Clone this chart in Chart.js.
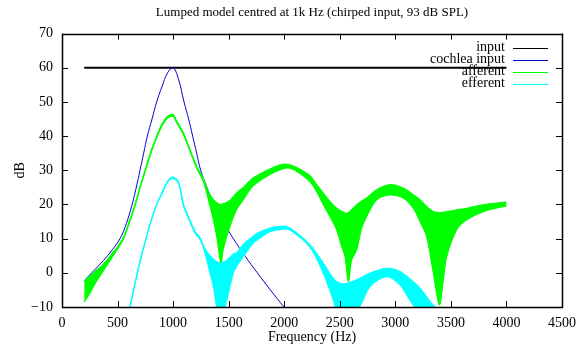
<!DOCTYPE html>
<html>
<head>
<meta charset="utf-8">
<script src="https://cdn.jsdelivr.net/npm/chart.js@4/dist/chart.umd.min.js"></script>
<style>
  html, body { margin: 0; padding: 0; background: #fff; }
  canvas { display: block; }
</style>
</head>
<body>
<canvas id="c" width="586" height="347"></canvas>
<script>
// series names / colours, in gnuplot key order
const seriesNames = ['input', 'cochlea input', 'afferent', 'efferent']
const seriesColors = ['#000000', '#0000d8', '#00ff00', '#00ffff']

// input: flat 60 dB over the chirp range
const inputFreq = [200, 4000]
const inputDb = [60, 60]

// cochlea input (blue)
const cochFreq = [200, 267, 350, 430, 522, 580, 627, 665, 702, 735, 768, 810, 852, 900, 950, 1000,
    1050, 1098, 1140, 1176, 1212, 1248, 1310, 1377, 1460, 1542, 1650, 1758, 1880, 1998, 2100]
const cochDb = [-2.3, 0, 2.8, 5.8, 10, 14.5, 19.5, 24.5, 30, 35, 40, 45, 50, 54.5, 58.5, 60,
    56.5, 50, 45, 40, 35, 30, 24.5, 19.5, 14.5, 10, 4.8, 0, -5.2, -10, -14]

// afferent (green): upper and lower edge of the ripple band
const affFreq = [200, 250, 300, 350, 400, 450, 500, 552, 600, 657, 700, 747, 800, 852, 900, 950, 1000,
    1032, 1092, 1152, 1212, 1272, 1302, 1332, 1362, 1392, 1422, 1431, 1452, 1512, 1572, 1632, 1722, 1872, 1992,
    2052, 2142, 2232, 2292, 2352, 2412, 2472, 2517, 2547, 2577, 2607, 2652, 2697, 2742, 2832, 2952, 3072,
    3162, 3222, 3282, 3342, 3396, 3430, 3462, 3552, 3642, 3792, 4000]
const affHi = [-2.5, -1, 0.5, 1.8, 3.6, 5.6, 7.6, 10.3, 14.5, 20, 25, 30, 35.5, 40, 43.5, 45.8, 46.3,
    44.4, 41, 36.1, 31.2, 27.6, 24.9, 22.8, 21.4, 20.5, 20, 20, 20.2, 21.2, 23.4, 25, 27.8, 30.4, 31.8,
    31.6, 30.3, 28.4, 25.8, 23.3, 20.9, 18.9, 18, 17.5, 17.6, 18.5, 19.9, 21, 21.9, 24.3, 25.8, 24.8,
    22.8, 21.4, 19.4, 17.9, 17.6, 17.7, 17.9, 18.4, 18.9, 19.9, 20.7]
const affLo = [-8.5, -6, -3, -0.5, 2, 4.5, 7, 9.8, 14, 19.5, 24.5, 29.5, 35, 39.5, 43, 45.3, 45.8,
    43.9, 40.5, 35.6, 30.7, 26.8, 23.4, 19.5, 15.6, 10.7, 4, 2.4, 7, 13.6, 18.5, 21.4, 25.5, 28.8, 30.5,
    30.6, 29.1, 26.7, 23.8, 19.9, 16.5, 12.6, 7.7, 4.8, -2.6, 3.8, 6.7, 13.1, 16.5, 21.4, 22.8, 21.9,
    18.9, 15, 10.6, -0.1, -9.4, -2.6, 4.7, 12.6, 15.5, 17.9, 19.6]

// efferent (cyan): upper and lower edge of the ripple band
const effFreq = [600, 612, 645, 678, 715, 756, 800, 852, 900, 950, 1000, 1050, 1092, 1150, 1200, 1242,
    1272, 1302, 1332, 1362, 1392, 1422, 1467, 1542, 1572, 1632, 1722, 1752, 1872, 1992,
    2052, 2232, 2352, 2442, 2502, 2577, 2682, 2772, 2922, 3042, 3132, 3222, 3312, 3372, 3420]
const effHi = [-12, -10, -5, 0, 5, 10, 15, 20, 23.5, 26.8, 28, 26.5, 20.3, 15.5, 12, 10.3,
    8, 6.3, 5, 4, 3.3, 2.9, 3.3, 5.5, 5.8, 8.3, 10.7, 11.5, 13.1, 13.7,
    13.1, 8.2, 2.8, -1.6, -3.1, -3, -1.6, -0.1, 1.3, 0.4, -1.8, -4.5, -8.4, -10.5, -13]
const effLo = [-12, -10, -5, 0, 5, 10, 15, 20, 23.2, 26.5, 27.6, 26.1, 19.8, 15, 11.5, 9.8,
    7.5, 3.9, 0, -3.9, -10, -14, -10, 0, 1.9, 4.8, 8.8, 9.5, 12, 12.8,
    12.5, 7.5, -0.1, -8, -14, -14, -9.7, -4, -1.1, -3.5, -8, -12, -14, -15, -16]

const xTicks = [0, 500, 1000, 1500, 2000, 2500, 3000, 3500, 4000, 4500]
const yTicks = [-10, 0, 10, 20, 30, 40, 50, 60, 70]

function pts(xs, ys) {
    return xs.map(function(x, i) { return {x: x, y: ys[i]} })
}

const serif = 'Liberation Serif, Times New Roman, serif'

// gnuplot look: frame, inward mirrored ticks, key at top right
const gnuplotFrame = {
    id: 'gnuplotFrame',
    afterDraw(chart) {
        var ctx = chart.ctx
        var a = chart.chartArea
        var xs = chart.scales.x
        var ys = chart.scales.y
        ctx.save()
        ctx.strokeStyle = '#000'
        ctx.lineWidth = 1
        ctx.beginPath()
        xTicks.forEach(function(v) {
            var px = Math.round(xs.getPixelForValue(v)) + 0.5
            ctx.moveTo(px, a.bottom); ctx.lineTo(px, a.bottom - 6)
            ctx.moveTo(px, a.top); ctx.lineTo(px, a.top + 6)
        })
        yTicks.forEach(function(v) {
            var py = Math.round(ys.getPixelForValue(v)) + 0.5
            ctx.moveTo(a.left, py); ctx.lineTo(a.left + 6, py)
            ctx.moveTo(a.right, py); ctx.lineTo(a.right - 6, py)
        })
        ctx.stroke()
        ctx.lineWidth = 1.5
        ctx.strokeRect(Math.round(a.left) + 0.5, Math.round(a.top) + 0.5,
            Math.round(a.right - a.left), Math.round(a.bottom - a.top))

        // key
        ctx.font = '14px ' + serif
        ctx.textAlign = 'right'
        ctx.textBaseline = 'middle'
        ctx.lineWidth = 1
        for (let i = 0; i < seriesNames.length; i++) {
            var y = a.top + 14 + i * 12
            ctx.fillStyle = '#000'
            ctx.fillText(seriesNames[i], a.right - 57, y)
            ctx.strokeStyle = seriesColors[i]
            ctx.beginPath()
            ctx.moveTo(a.right - 49, Math.round(y) + 0.5)
            ctx.lineTo(a.right - 14, Math.round(y) + 0.5)
            ctx.stroke()
        }
        ctx.restore()
    }
}

new Chart(document.getElementById('c'), {
    type: 'line',
    data: {
        datasets: [
            {label: seriesNames[0], data: pts(inputFreq, inputDb), borderColor: seriesColors[0],
                borderWidth: 2, pointRadius: 0, order: 6},
            {label: seriesNames[1], data: pts(cochFreq, cochDb), borderColor: seriesColors[1],
                borderWidth: 1, pointRadius: 0, tension: 0.4, order: 5},
            {label: seriesNames[2], data: pts(affFreq, affHi), borderColor: seriesColors[2],
                borderWidth: 1.2, pointRadius: 0, tension: 0.3, fill: false, order: 4},
            {label: seriesNames[2] + ' lo', data: pts(affFreq, affLo), borderColor: seriesColors[2],
                backgroundColor: seriesColors[2], borderWidth: 1.2, pointRadius: 0, tension: 0.3,
                fill: '-1', order: 3},
            {label: seriesNames[3], data: pts(effFreq, effHi), borderColor: seriesColors[3],
                borderWidth: 1.2, pointRadius: 0, tension: 0.3, fill: false, order: 2},
            {label: seriesNames[3] + ' lo', data: pts(effFreq, effLo), borderColor: seriesColors[3],
                backgroundColor: seriesColors[3], borderWidth: 1.2, pointRadius: 0, tension: 0.3,
                fill: '-1', order: 1},
        ],
    },
    options: {
        responsive: false,
        animation: false,
        devicePixelRatio: 1,
        layout: {padding: {left: 0, right: 24, top: 0, bottom: 0}},
        plugins: {
            legend: {display: false},
            tooltip: {enabled: false},
            title: {
                display: true,
                fullSize: false,
                text: 'Lumped model centred at 1k Hz (chirped input, 93 dB SPL)',
                color: '#000',
                font: {family: serif, size: 13, weight: 'normal'},
                padding: {top: 5, bottom: 13},
            },
        },
        scales: {
            x: {
                type: 'linear',
                min: 0,
                max: 4500,
                afterFit: function(scale) { scale.height = 40 },
                afterBuildTicks: function(scale) { scale.ticks = xTicks.map(function(v) { return {value: v} }) },
                grid: {display: false, drawTicks: false},
                border: {display: false},
                ticks: {
                    color: '#000', padding: 8, maxRotation: 0, font: {family: serif, size: 14},
                    callback: function(v) { return String(v) },
                },
                title: {display: true, text: 'Frequency (Hz)', color: '#000',
                    font: {family: serif, size: 14}, padding: {top: 0, bottom: 1}},
            },
            y: {
                min: -10,
                max: 70,
                afterFit: function(scale) { scale.width = 62 },
                afterBuildTicks: function(scale) { scale.ticks = yTicks.map(function(v) { return {value: v} }) },
                grid: {display: false, drawTicks: false},
                border: {display: false},
                ticks: {
                    color: '#000', padding: 9, font: {family: serif, size: 14},
                    callback: function(v) { return String(v).replace('-', '\u2212') },
                },
                title: {display: true, text: 'dB', color: '#000',
                    font: {family: serif, size: 14}, padding: {top: 12, bottom: 0}},
            },
        },
    },
    plugins: [gnuplotFrame],
})
</script>
</body>
</html>
